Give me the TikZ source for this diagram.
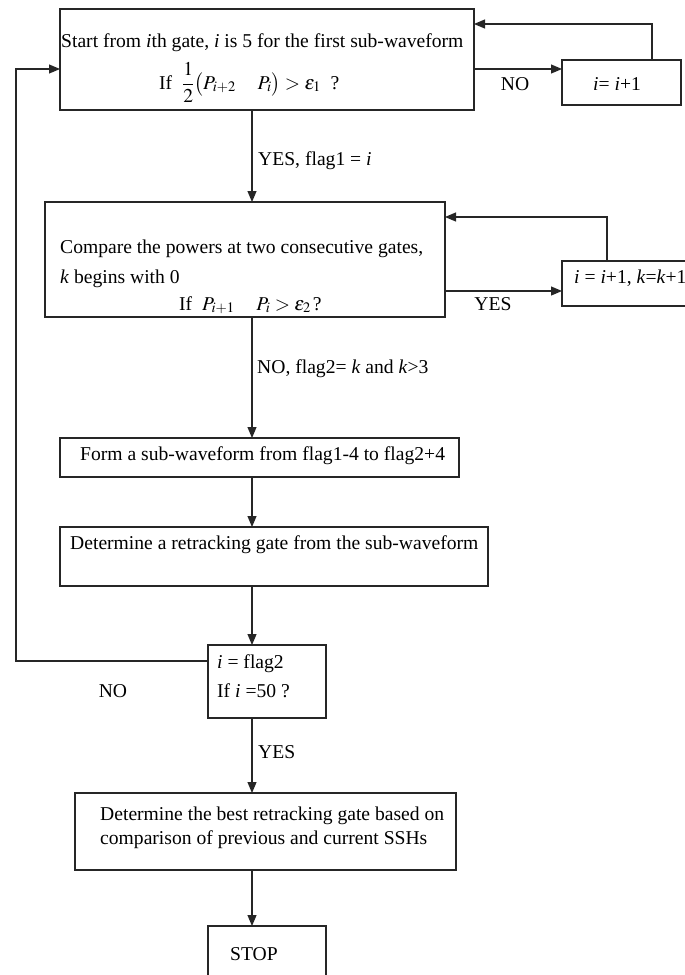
\documentclass[tikz,border=0pt]{standalone}
\usepackage{mathptmx}
\usepackage{fontspec}
\setmainfont{Liberation Serif}
\usetikzlibrary{arrows.meta}
\begin{document}
\begin{tikzpicture}[x=1pt,y=-1pt,
  box/.style={draw=black!85, line width=1.2pt, inner sep=0pt, outer sep=0pt, fill=white},
  txt/.style={inner sep=0pt, anchor=base west, font=\fontsize{19.6}{23}\selectfont},
  lbl/.style={inner sep=0pt, anchor=base, font=\fontsize{19.6}{23}\selectfont},
  arr/.style={draw=black!85, line width=1.2pt, -{Triangle[length=11pt,width=9pt]}},
  ln/.style={draw=black!85, line width=1.2pt}]
\useasboundingbox (0,0) rectangle (685,975);
% boxes
\node[box, minimum width=414pt, minimum height=101pt] (b1) at (267,59.5) {};
\node[box, minimum width=119pt, minimum height=45pt] (n1) at (621.5,82.5) {};
\node[box, minimum width=400pt, minimum height=115pt] (b2) at (245,259.5) {};
\node[box, minimum width=140pt, minimum height=45pt] (n2) at (632,283.5) {};
\node[box, minimum width=399pt, minimum height=39pt] (b3) at (259.5,457.5) {};
\node[box, minimum width=428pt, minimum height=59pt] (b4) at (274,556.5) {};
\node[box, minimum width=118pt, minimum height=73pt] (b5) at (267,681.5) {};
\node[box, minimum width=381pt, minimum height=77pt] (b6) at (265.5,831.5) {};
\node[box, minimum width=118pt, minimum height=60pt] (st) at (267,956) {};
% helper coordinates
\coordinate (mx) at (252,0);
\coordinate (noy) at (0,69);
\coordinate (c1) at (652,24);
\coordinate (yesy) at (0,291);
\coordinate (c4) at (607,217);
\coordinate (c2) at (16,661);
\coordinate (c3) at (16,69);
% connectors
\draw[arr] (b1.east |- noy) -- (n1.west |- noy);
\draw[arr] (c1 |- n1.north) -- (c1) -- (b1.east |- c1);
\draw[arr] (b1.south -| mx) -- (b2.north -| mx);
\draw[arr] (b2.east |- yesy) -- (n2.west |- yesy);
\draw[arr] (c4 |- n2.north) -- (c4) -- (b2.east |- c4);
\draw[arr] (b2.south -| mx) -- (b3.north -| mx);
\draw[arr] (b3.south -| mx) -- (b4.north -| mx);
\draw[arr] (b4.south -| mx) -- (b5.north -| mx);
\draw[arr] (b5.west |- c2) -- (c2) -- (c3) -- (b1.west |- c3);
\draw[arr] (b5.south -| mx) -- (b6.north -| mx);
\draw[arr] (b6.south -| mx) -- (st.north -| mx);
% texts
\node[txt] (t1a) at (61,47) {Start from \textit{i}th gate, \textit{i} is 5 for the first sub-waveform};
\node[txt] (t1b) at (159,89) {If\ \ $\displaystyle\frac{1}{2}\bigl(P_{i+2}\quad\, P_i\bigr)>\varepsilon_1$\ \ ?};
\node[lbl] (lno1) at (515,90) {NO};
\node[txt] (tn1) at (593,90) {\textit{i}= \textit{i}+1};
\node[txt] (lyes1) at (258,165) {YES, flag1 = \textit{i}};
\node[txt] (t2a) at (60,253) {Compare the powers at two consecutive gates,};
\node[txt] (t2b) at (60,283) {\textit{k} begins with 0};
\node[txt] (t2c) at (179,310) {If\ \ $P_{i+1}\quad\, P_i>\varepsilon_2\,$?};
\node[lbl] (lyes2) at (493,310) {YES};
\node[txt] (tn2) at (574,283) {\textit{i} = \textit{i}+1, \textit{k}=\textit{k}+1};
\node[txt] (lno2) at (257,373) {NO, flag2= \textit{k} and \textit{k}>3};
\node[txt] (t3) at (80,460) {Form a sub-waveform from flag1-4 to flag2+4};
\node[txt] (t4) at (70,549) {Determine a retracking gate from the sub-waveform};
\node[txt] (t5a) at (217,668) {\textit{i} = flag2};
\node[txt] (t5b) at (217,697) {If \textit{i} =50 ?};
\node[lbl] (lno3) at (113,697) {NO};
\node[txt] (lyes3) at (258,758) {YES};
\node[txt] (t6a) at (100,820) {Determine the best retracking gate based on};
\node[txt] (t6b) at (100,844) {comparison of previous and current SSHs};
\node[txt] (tst) at (230,960) {STOP};
\end{tikzpicture}
\end{document}
